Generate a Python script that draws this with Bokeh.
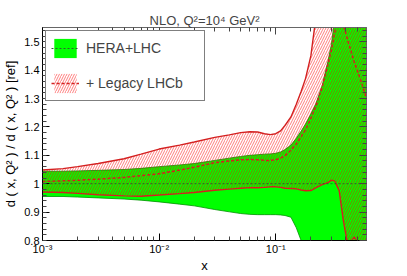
import numpy as np
from bokeh.plotting import figure
from bokeh.models import (Range1d, FixedTicker, LogAxis, LinearAxis,
                          Legend, LegendItem, ColumnDataSource)
from bokeh.embed import file_html
from bokeh.resources import INLINE

# ---------------- data ----------------
x = [0.001, 0.0015, 0.002, 0.003, 0.005, 0.007, 0.01, 0.015, 0.02, 0.03,
     0.04, 0.05, 0.06, 0.07, 0.08, 0.09, 0.1, 0.11, 0.12, 0.135, 0.15,
     0.165, 0.18, 0.2, 0.22, 0.25, 0.28, 0.3, 0.32, 0.35, 0.38, 0.41,
     0.44, 0.47, 0.5, 0.55, 0.6]

green_up = [1.044, 1.044, 1.045, 1.047, 1.050, 1.054, 1.060, 1.066, 1.071, 1.082,
            1.090, 1.096, 1.100, 1.102, 1.104, 1.105, 1.107, 1.112, 1.120, 1.136,
            1.160, 1.185, 1.210, 1.245, 1.280, 1.345, 1.430, 1.490, 1.580, 1.700,
            1.850, 2.0, 2.0, 2.0, 2.0, 2.0, 2.0]
green_lo = [0.955, 0.955, 0.953, 0.950, 0.946, 0.942, 0.936, 0.928, 0.922, 0.909,
            0.901, 0.895, 0.892, 0.891, 0.891, 0.891, 0.891, 0.890, 0.888, 0.882,
            0.845, 0.800, 0.760, 0.700, 0.650, 0.6, 0.6, 0.6, 0.6, 0.6,
            0.6, 0.6, 0.6, 0.6, 0.6, 0.6, 0.6]
green_mid = [1.0] * len(x)

red_up = [1.048, 1.053, 1.060, 1.071, 1.088, 1.104, 1.122, 1.136, 1.147, 1.163,
          1.172, 1.180, 1.183, 1.182, 1.176, 1.173, 1.176, 1.186, 1.205, 1.235,
          1.280, 1.325, 1.370, 1.450, 1.580, 1.700, 1.850, 2.1, 2.1, 2.1,
          2.1, 2.1, 2.1, 2.1, 2.1, 2.1, 2.1]
red_lo = [0.971, 0.969, 0.966, 0.961, 0.957, 0.956, 0.960, 0.965, 0.969, 0.977,
          0.981, 0.984, 0.986, 0.986, 0.987, 0.989, 0.989, 0.987, 0.984, 0.983,
          0.982, 0.978, 0.975, 0.976, 0.985, 0.997, 1.004, 1.012, 1.010, 0.975,
          0.870, 0.795, 0.795, 0.813, 0.795, 0.78, 0.78]
red_mid = [1.008, 1.010, 1.012, 1.016, 1.022, 1.028, 1.035, 1.048, 1.058, 1.074,
           1.080, 1.084, 1.085, 1.084, 1.082, 1.082, 1.084, 1.090, 1.099, 1.118,
           1.140, 1.165, 1.190, 1.230, 1.270, 1.340, 1.420, 1.470, 1.530, 1.620,
           1.560, 1.510, 1.470, 1.430, 1.400, 1.350, 1.300]

y_ticks = [0.8, 0.9, 1.0, 1.1, 1.2, 1.3, 1.4, 1.5]
y_tick_labels = ["0.8", "0.9", "1", "1.1", "1.2", "1.3", "1.4", "1.5"]
x_ticks = [0.001, 0.01, 0.1]
x_tick_labels = ["10\u207b\u00b3", "10\u207b\u00b2", "10\u207b\u00b9"]
x_minor = [m * d for d in (0.001, 0.01, 0.1) for m in range(2, 10) if m * d <= 0.6]
y_minor = [round(0.8 + 0.02 * i, 2) for i in range(38)]

title_text = "NLO, Q\u00b2=10\u2074 GeV\u00b2"
y_title = "d ( x, Q\u00b2 ) / d ( x, Q\u00b2 ) [ref]"
x_title = "x"
labels = ["HERA+LHC", "+ Legacy LHCb"]

# ---------------- figure ----------------
FONT = "Liberation Sans"
src = ColumnDataSource(dict(x=x, gu=green_up, gl=green_lo, gm=green_mid,
                            ru=red_up, rl=red_lo, rm=red_mid))

p = figure(width=400, height=275, x_axis_type="log",
           x_range=Range1d(1e-3, 0.6), y_range=Range1d(0.8, 1.55),
           output_backend="svg", toolbar_location=None,
           min_border_left=41, min_border_right=34,
           min_border_top=27, min_border_bottom=27)
p.outline_line_color = "#666666"
p.grid.visible = False

p.title.text = title_text
p.title.align = "center"
p.title.text_font = FONT
p.title.text_font_size = "13px"
p.title.text_font_style = "normal"
p.title.standoff = 0

GREEN = "#00ff00"
RED = "#d42020"

g_area = p.varea(x="x", y1="gl", y2="gu", source=src, fill_color=GREEN,
                 fill_alpha=1.0)
p.line(x="x", y="gu", source=src, line_color="#009000", line_width=0.8)
p.line(x="x", y="gl", source=src, line_color="#009000", line_width=0.8)

r_area = p.varea(x="x", y1="rl", y2="ru", source=src, fill_alpha=0,
                 hatch_pattern="/", hatch_color="red", hatch_alpha=0.5,
                 hatch_scale=5, hatch_weight=1)
p.line(x="x", y="ru", source=src, line_color=RED, line_width=1.4)
p.line(x="x", y="rl", source=src, line_color=RED, line_width=1.4)

g_line = p.line(x="x", y="gm", source=src, line_color="#2f5f2f",
                line_width=1, line_dash="2 2")
r_line = p.line(x="x", y="rm", source=src, line_color=RED,
                line_width=1.5, line_dash="3 2")

# ---------------- axes ----------------
xax = p.xaxis[0]
xax.ticker = FixedTicker(ticks=x_ticks, minor_ticks=x_minor)
xax.major_label_overrides = {t: l for t, l in zip(x_ticks, x_tick_labels)}
yax = p.yaxis[0]
yax.ticker = FixedTicker(ticks=y_ticks, minor_ticks=y_minor)
yax.major_label_overrides = {t: l for t, l in zip(y_ticks, y_tick_labels)}

for ax in (xax, yax):
    ax.major_tick_in = 7
    ax.major_tick_out = 0
    ax.minor_tick_in = 4
    ax.minor_tick_out = 0
    ax.axis_line_color = "black"
    ax.major_tick_line_color = "black"
    ax.minor_tick_line_color = "#444444"
    ax.major_label_text_font = FONT
    ax.major_label_text_font_size = "11px"
    ax.major_label_text_color = "black"
    ax.axis_label_text_font = FONT
    ax.axis_label_text_font_style = "normal"
    ax.axis_label_text_color = "black"

xax.major_label_standoff = 2
xax.axis_label = x_title
xax.axis_label_text_font_size = "13px"
xax.axis_label_standoff = 0

yax.major_label_standoff = 3
yax.axis_label = y_title
yax.axis_label_text_font_size = "13px"
yax.axis_label_standoff = 3

top = LogAxis(ticker=FixedTicker(ticks=x_ticks, minor_ticks=x_minor))
right = LinearAxis(ticker=FixedTicker(ticks=y_ticks, minor_ticks=y_minor))
for ax in (top, right):
    ax.major_tick_in = 7
    ax.major_tick_out = 0
    ax.minor_tick_in = 4
    ax.minor_tick_out = 0
    ax.major_label_text_font_size = "2px"
    ax.major_label_text_alpha = 0
    ax.major_label_standoff = 0
    ax.axis_line_color = "#666666"
    ax.major_tick_line_color = "#444444"
    ax.minor_tick_line_color = "#444444"
top.major_label_text_font_size = "6px"
top.major_label_standoff = 2
p.add_layout(top, "above")
p.add_layout(right, "right")

# ---------------- legend ----------------
legend = Legend(items=[LegendItem(label=labels[0], renderers=[g_area, g_line]),
                       LegendItem(label=labels[1], renderers=[r_area, r_line])],
                location="top_left", margin=3, padding=5, spacing=11,
                glyph_width=28, glyph_height=24, label_standoff=7,
                label_width=113, label_text_font=FONT,
                label_text_font_size="14px", border_line_color="black",
                border_line_width=1, background_fill_alpha=1.0)
p.add_layout(legend)

open("out.html", "w").write(file_html(p, INLINE))
